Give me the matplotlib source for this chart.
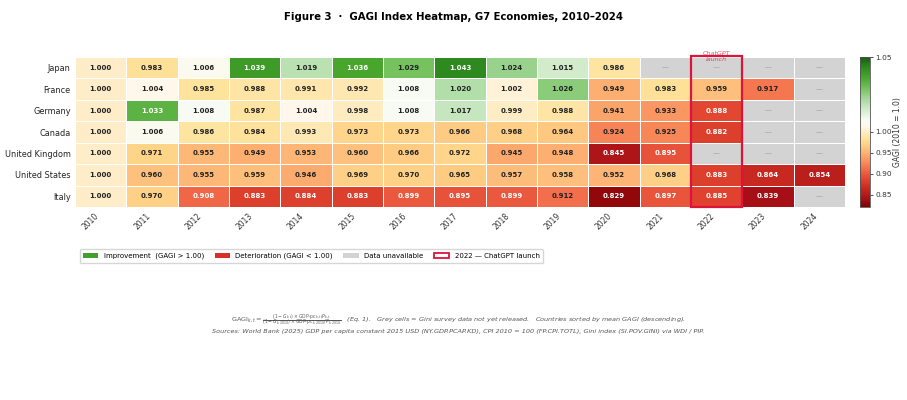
import numpy as np
import matplotlib
matplotlib.use("Agg")
import matplotlib.pyplot as plt
from matplotlib.colors import LinearSegmentedColormap, TwoSlopeNorm
from matplotlib.patches import Patch, Rectangle

nan = np.nan

# data (GAGI, 2010 = 1.0)
years = [str(y) for y in range(2010, 2025)]
countries = ["Japan", "France", "Germany", "Canada", "United Kingdom", "United States", "Italy"]

japan = [1.000, 0.983, 1.006, 1.039, 1.019, 1.036, 1.029, 1.043, 1.024, 1.015, 0.986, nan, nan, nan, nan]
france = [1.000, 1.004, 0.985, 0.988, 0.991, 0.992, 1.008, 1.020, 1.002, 1.026, 0.949, 0.983, 0.959, 0.917, nan]
germany = [1.000, 1.033, 1.008, 0.987, 1.004, 0.998, 1.008, 1.017, 0.999, 0.988, 0.941, 0.933, 0.888, nan, nan]
canada = [1.000, 1.006, 0.986, 0.984, 0.993, 0.973, 0.973, 0.966, 0.968, 0.964, 0.924, 0.925, 0.882, nan, nan]
uk = [1.000, 0.971, 0.955, 0.949, 0.953, 0.960, 0.966, 0.972, 0.945, 0.948, 0.845, 0.895, nan, nan, nan]
us = [1.000, 0.960, 0.955, 0.959, 0.946, 0.969, 0.970, 0.965, 0.957, 0.958, 0.952, 0.968, 0.883, 0.864, 0.854]
italy = [1.000, 0.970, 0.908, 0.883, 0.884, 0.883, 0.899, 0.895, 0.899, 0.912, 0.829, 0.897, 0.885, 0.839, nan]

highlight_year = "2022"
cbar_ticks = [0.85, 0.90, 0.95, 1.00, 1.05]

vals = np.array([japan, france, germany, canada, uk, us, italy])

# red -> cream -> white -> green, white sits just above 1.0
nodes = [
    (0.00, "#800000"), (0.05, "#a50f15"), (0.12, "#c62820"), (0.18, "#e0422f"),
    (0.25, "#f26b4a"), (0.30, "#f98e5c"), (0.36, "#fdb172"), (0.42, "#fed489"),
    (0.46, "#fee39e"), (0.50, "#feecc6"), (0.54, "#fff8ea"), (0.58, "#f7fbf4"),
    (0.65, "#d2ebcc"), (0.70, "#b3dfac"), (0.75, "#93cf85"), (0.80, "#6fbf58"),
    (0.86, "#4aa72e"), (0.93, "#2f8b1e"), (1.00, "#1a5c18"),
]
cmap = LinearSegmentedColormap.from_list("gagi", nodes)
cmap.set_bad("#d3d3d3")
norm = TwoSlopeNorm(vmin=0.82, vcenter=1.0, vmax=1.05)

fig = plt.figure(figsize=(9.07, 4.0), dpi=100)
ax = fig.add_axes([0.0827, 0.4825, 0.8489, 0.375])

data = np.ma.masked_invalid(vals)
mesh = ax.pcolormesh(data, cmap=cmap, norm=norm, edgecolors="white", linewidth=0.6)
ax.set_xlim(0, len(years))
ax.set_ylim(len(countries), 0)

for i in range(len(countries)):
    for j in range(len(years)):
        v = vals[i, j]
        if np.isnan(v):
            ax.text(j + 0.5, i + 0.5, "—", ha="center", va="center", fontsize=5, color="#9a9a9a")
        else:
            col = "white" if (v < 0.91 or v > 1.03) else "#222222"
            ax.text(j + 0.5, i + 0.5, f"{v:.3f}", ha="center", va="center",
                    fontsize=5, fontweight="bold", color=col)

ax.set_xticks(np.arange(len(years)) + 0.5)
ax.set_xticklabels(years, rotation=45, ha="right", fontsize=5.5, color="#333333")
ax.set_yticks(np.arange(len(countries)) + 0.5)
ax.set_yticklabels(countries, fontsize=5.9, color="#222222")
ax.tick_params(length=0, pad=3)
for s in ax.spines.values():
    s.set_visible(False)

# ChatGPT launch marker
hx = years.index(highlight_year)
ax.add_patch(Rectangle((hx, -0.06), 1, len(countries) + 0.06, fill=False,
                       edgecolor="#dc143c", linewidth=1.6, clip_on=False, zorder=5))
ax.text(hx + 0.5, -0.02, "ChatGPT\nlaunch", ha="center", va="center", fontsize=4.6,
        style="italic", color="#dc143c", alpha=0.75, linespacing=1.1, zorder=6)

# colorbar
cax = fig.add_axes([0.948, 0.4825, 0.011, 0.375])
cb = fig.colorbar(mesh, cax=cax, ticks=cbar_ticks)
cb.ax.set_yticklabels([f"{t:.2f}" for t in cbar_ticks])
cb.ax.tick_params(labelsize=5.3, length=2.5, width=0.6, pad=1.5, colors="#333333")
cb.outline.set_linewidth(0.6)
cb.outline.set_edgecolor("#555555")
cb.set_label("GAGI (2010 = 1.0)", fontsize=5.5, labelpad=1, color="#333333")

fig.suptitle("Figure 3  ·  GAGI Index Heatmap, G7 Economies, 2010–2024",
             y=0.97, fontsize=7.3, fontweight="bold")

handles = [
    Patch(facecolor="#3fa12b", label="Improvement  (GAGI > 1.00)"),
    Patch(facecolor="#d73027", label="Deterioration (GAGI < 1.00)"),
    Patch(facecolor="#d3d3d3", label="Data unavailable"),
    Patch(facecolor="white", edgecolor="#dc143c", linewidth=1.3, label="2022 — ChatGPT launch"),
]
fig.legend(handles=handles, loc="upper left", bbox_to_anchor=(0.084, 0.385), ncol=4,
           fontsize=5, frameon=True, edgecolor="#cccccc", fancybox=True,
           handlelength=2.2, handleheight=0.7, columnspacing=1.5, borderpad=0.5)

eq = (r"$\mathrm{GAGI}_{k,t}=\frac{(1-G_{k,t})\times \mathrm{GDP\text{-}pc}_{k,t}/P_{k,t}}"
      r"{(1-G_{k,2010})\times \mathrm{GDP\text{-}pc}_{k,2010}/P_{k,2010}}$")
fig.text(0.505, 0.198, eq + "   (Eq. 1).   Grey cells = Gini survey data not yet released.   "
         "Countries sorted by mean GAGI (descending).",
         ha="center", va="center", fontsize=4.65, style="italic", color="#555555")
fig.text(0.505, 0.171, "Sources: World Bank (2025) GDP per capita constant 2015 USD (NY.GDP.PCAP.KD), "
         "CPI 2010 = 100 (FP.CPI.TOTL), Gini index (SI.POV.GINI) via WDI / PIP.",
         ha="center", va="center", fontsize=4.65, style="italic", color="#555555")

fig.savefig("out.png", dpi=100)
